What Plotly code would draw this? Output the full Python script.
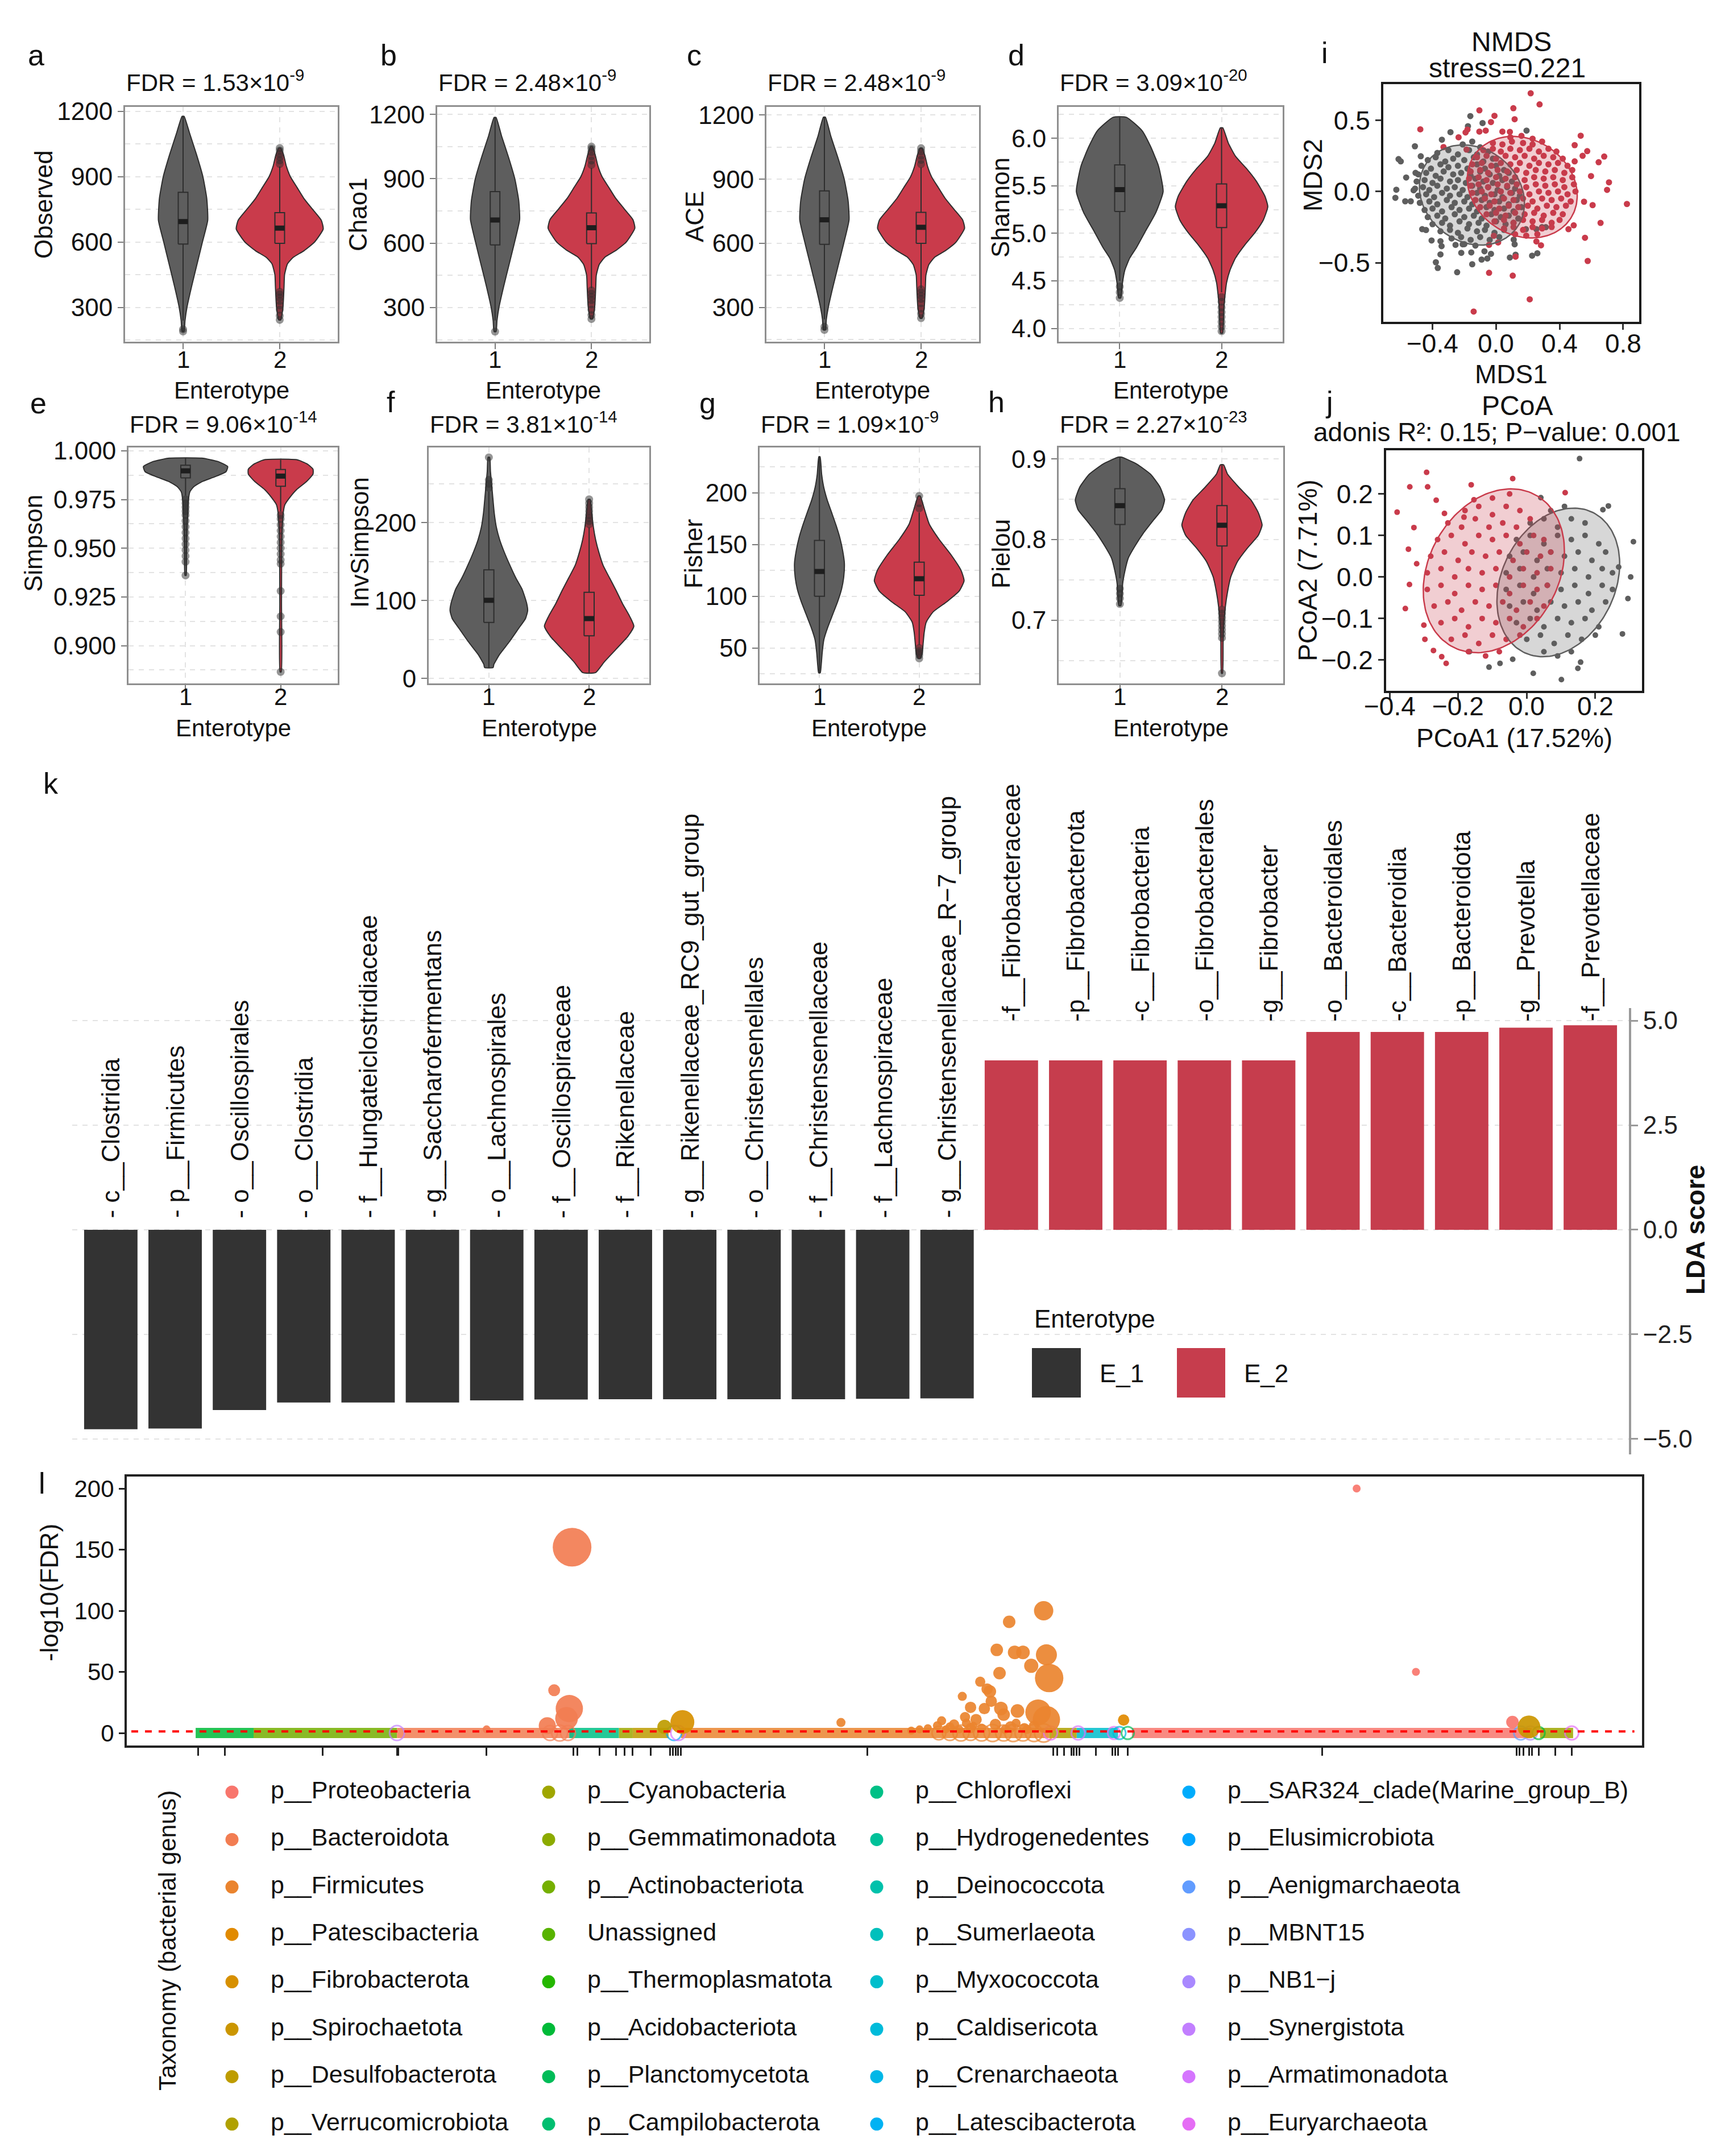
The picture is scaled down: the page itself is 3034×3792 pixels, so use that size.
import math
import numpy as np
import plotly.graph_objects as go

W, H = 3034, 3792
FONT = "Liberation Sans, Arial, Helvetica, sans-serif"

GRAY = "#5E5E5E"
RED = "#C93B4B"
BAR_E1 = "#333333"
BAR_E2 = "#C63D4D"
GRID = "#E3E3E3"
FRAME = "#8F8F8F"
INK = "#111111"

# ======================= DATA =======================
# violin outlines: value levels (Y) and half-widths (W, x units); box = [low whisker, q1, median, q3, high whisker]
OBS_Y1 = [190, 240, 300, 400, 500, 600, 700, 800, 900, 1000, 1100, 1177]
OBS_W1 = [0.01, 0.02, 0.04, 0.09, 0.145, 0.2, 0.255, 0.245, 0.205, 0.14, 0.067, 0.01]
OBS_Y2 = [243, 300, 350, 400, 450, 500, 530, 560, 600, 660, 700, 750, 800, 850, 900, 950, 1000, 1031]
OBS_W2 = [0.01, 0.033, 0.04, 0.045, 0.05, 0.08, 0.14, 0.25, 0.36, 0.45, 0.43, 0.34, 0.25, 0.18, 0.11, 0.067, 0.04, 0.01]
OBS_BOX1 = [240, 591, 694, 828, 1177]
OBS_BOX2 = [385, 594, 664, 735, 946]
OBS_OUT1 = [190, 200]
OBS_OUT2 = [243, 262, 290, 310, 330, 345, 360, 372, 958, 975, 990, 1005, 1020, 1031]

CHAO_Y1 = [188, 240, 300, 400, 500, 600, 710, 800, 900, 1000, 1100, 1186]
CHAO_W1 = [0.01, 0.02, 0.04, 0.09, 0.145, 0.2, 0.255, 0.245, 0.205, 0.14, 0.067, 0.01]
CHAO_Y2 = [247, 300, 350, 400, 450, 500, 535, 565, 605, 670, 710, 760, 810, 860, 910, 960, 1010, 1050]
CHAO_W2 = [0.01, 0.033, 0.04, 0.045, 0.05, 0.08, 0.14, 0.25, 0.36, 0.45, 0.43, 0.34, 0.25, 0.18, 0.11, 0.067, 0.04, 0.01]
CHAO_BOX1 = [240, 592, 708, 840, 1186]
CHAO_BOX2 = [390, 598, 672, 741, 950]
CHAO_OUT1 = [188]
CHAO_OUT2 = [247, 265, 290, 315, 335, 350, 365, 380, 965, 985, 1005, 1025, 1040, 1050]

ACE_Y1 = [195, 245, 300, 400, 500, 600, 710, 800, 900, 1000, 1100, 1190]
ACE_W1 = [0.01, 0.02, 0.04, 0.09, 0.145, 0.2, 0.255, 0.245, 0.205, 0.14, 0.067, 0.01]
ACE_Y2 = [250, 300, 350, 400, 450, 500, 535, 565, 605, 670, 710, 760, 810, 860, 910, 960, 1010, 1045]
ACE_W2 = [0.01, 0.033, 0.04, 0.045, 0.05, 0.08, 0.14, 0.25, 0.36, 0.45, 0.43, 0.34, 0.25, 0.18, 0.11, 0.067, 0.04, 0.01]
ACE_BOX1 = [245, 595, 710, 845, 1190]
ACE_BOX2 = [390, 600, 675, 745, 955]
ACE_OUT1 = [195, 210]
ACE_OUT2 = [250, 270, 295, 320, 340, 355, 370, 385, 970, 990, 1010, 1030, 1045]

SHAN_Y1 = [4.32, 4.48, 4.61, 4.74, 4.85, 5.01, 5.22, 5.44, 5.71, 5.92, 6.08, 6.22]
SHAN_W1 = [0.01, 0.027, 0.049, 0.098, 0.164, 0.246, 0.355, 0.426, 0.38, 0.30, 0.219, 0.066]
SHAN_Y2 = [3.95, 4.21, 4.34, 4.48, 4.61, 4.74, 4.88, 5.01, 5.14, 5.28, 5.39, 5.55, 5.68, 5.81, 5.95, 6.11]
SHAN_W2 = [0.01, 0.022, 0.033, 0.049, 0.082, 0.137, 0.23, 0.33, 0.41, 0.454, 0.426, 0.34, 0.246, 0.137, 0.066, 0.012]
SHAN_BOX1 = [4.50, 5.23, 5.46, 5.72, 6.22]
SHAN_BOX2 = [4.38, 5.06, 5.29, 5.52, 6.11]
SHAN_OUT1 = [4.44, 4.38, 4.32]
SHAN_OUT2 = [4.33, 4.28, 4.22, 4.17, 4.12, 4.07, 4.02, 3.97]

SIMP_Y1 = [0.936, 0.9477, 0.9607, 0.9672, 0.9737, 0.9789, 0.9815, 0.9841, 0.9867, 0.9893, 0.9919, 0.9945, 0.9962]
SIMP_W1 = [0.006, 0.011, 0.017, 0.023, 0.028, 0.045, 0.085, 0.17, 0.31, 0.426, 0.443, 0.34, 0.17]
SIMP_Y2 = [0.8865, 0.9216, 0.9477, 0.9607, 0.9685, 0.9724, 0.9763, 0.9802, 0.9841, 0.9880, 0.9906, 0.9932, 0.9954]
SIMP_W2 = [0.006, 0.009, 0.011, 0.017, 0.028, 0.045, 0.10, 0.17, 0.27, 0.34, 0.34, 0.28, 0.17]
SIMP_BOX1 = [0.977, 0.9861, 0.9897, 0.9926, 0.9962]
SIMP_BOX2 = [0.969, 0.9818, 0.9870, 0.9904, 0.9954]
SIMP_OUT1 = [0.975, 0.973, 0.971, 0.969, 0.967, 0.964, 0.961, 0.958, 0.955, 0.952, 0.949, 0.946, 0.943, 0.936]
SIMP_OUT2 = [0.967, 0.965, 0.962, 0.959, 0.956, 0.953, 0.950, 0.947, 0.944, 0.942, 0.928, 0.915, 0.907, 0.8865]

INVS_Y1 = [14, 18, 31, 47, 64, 77, 87, 97, 114, 129, 147, 163, 178, 194, 212, 227, 243, 266, 284]
INVS_W1 = [0.043, 0.05, 0.108, 0.204, 0.296, 0.366, 0.387, 0.376, 0.333, 0.269, 0.204, 0.151, 0.108, 0.075, 0.054, 0.043, 0.032, 0.016, 0.008]
INVS_Y2 = [7.5, 21, 37.6, 54, 67, 80, 96, 113, 129, 145, 162, 178, 194, 211, 230]
INVS_W2 = [0.065, 0.15, 0.27, 0.387, 0.446, 0.403, 0.333, 0.269, 0.204, 0.14, 0.097, 0.065, 0.043, 0.027, 0.01]
INVS_BOX1 = [14, 71.9, 100.3, 139.5, 240]
INVS_BOX2 = [7.5, 54.6, 76.8, 110.5, 194]
INVS_OUT1 = [245, 250, 255, 284]
INVS_OUT2 = [198, 202, 206, 210, 215, 220, 225, 230]

FISH_Y1 = [26, 33, 46, 58, 70, 82.5, 95, 107, 119, 132, 144, 156, 168.5, 181, 193, 205, 218, 235]
FISH_W1 = [0.008, 0.017, 0.028, 0.044, 0.083, 0.133, 0.183, 0.222, 0.244, 0.25, 0.233, 0.206, 0.167, 0.122, 0.078, 0.044, 0.022, 0.006]
FISH_Y2 = [40, 45, 55, 65, 75, 85, 95, 105, 115, 125, 140, 155, 170, 185, 197]
FISH_W2 = [0.01, 0.03, 0.04, 0.05, 0.07, 0.14, 0.28, 0.40, 0.45, 0.42, 0.32, 0.20, 0.10, 0.05, 0.01]
FISH_BOX1 = [26, 100, 124, 154, 235]
FISH_BOX2 = [53, 101, 117, 133, 181]
FISH_OUT1 = []
FISH_OUT2 = [185, 190, 197, 50, 47, 45, 43, 40]

PIEL_Y1 = [0.718, 0.732, 0.745, 0.761, 0.777, 0.792, 0.808, 0.824, 0.837, 0.849, 0.865, 0.881, 0.8937, 0.9022]
PIEL_W1 = [0.01, 0.022, 0.027, 0.049, 0.082, 0.148, 0.23, 0.328, 0.41, 0.437, 0.393, 0.30, 0.164, 0.016]
PIEL_Y2 = [0.634, 0.672, 0.691, 0.7165, 0.7354, 0.754, 0.773, 0.789, 0.805, 0.818, 0.8335, 0.849, 0.865, 0.881, 0.8927]
PIEL_W2 = [0.005, 0.011, 0.016, 0.033, 0.055, 0.087, 0.153, 0.246, 0.355, 0.393, 0.355, 0.284, 0.164, 0.055, 0.016]
PIEL_BOX1 = [0.752, 0.8187, 0.842, 0.863, 0.9022]
PIEL_BOX2 = [0.717, 0.792, 0.8177, 0.842, 0.8927]
PIEL_OUT1 = [0.739, 0.733, 0.727, 0.72]
PIEL_OUT2 = [0.713, 0.708, 0.703, 0.698, 0.693, 0.688, 0.683, 0.678, 0.634]

FDR_TEXT = ["1.53×10<sup>-9</sup>", "2.48×10<sup>-9</sup>", "2.48×10<sup>-9</sup>", "3.09×10<sup>-20</sup>",
            "9.06×10<sup>-14</sup>", "3.81×10<sup>-14</sup>", "1.09×10<sup>-9</sup>", "2.27×10<sup>-23</sup>"]
INDEX_NAMES = ["Observed", "Chao1", "ACE", "Shannon", "Simpson", "InvSimpson", "Fisher", "Pielou"]
GROUPS = ["1", "2"]

# NMDS (MDS1, MDS2)
NMDS_E1 = [(-0.162,0.529),(-0.177,0.458),(-0.085,0.480),(-0.287,0.416),(-0.341,0.363),(-0.511,0.317),(-0.614,0.227),(-0.600,0.211),(-0.474,0.247),(0.192,0.427),(-0.628,0.012),(-0.634,-0.045),(-0.566,0.098),(-0.507,0.130),(-0.572,-0.069),(-0.537,-0.069),(-0.519,0.008),(-0.465,-0.265),(-0.441,-0.271),(-0.406,-0.344),(-0.350,-0.349),(-0.343,-0.384),(-0.350,-0.442),(-0.379,-0.497),(-0.367,-0.537),(-0.245,-0.567),(-0.150,-0.511),(-0.219,-0.431),(-0.156,-0.428),(-0.073,-0.420),(-0.091,-0.478),(-0.055,-0.471),(-0.032,-0.438),(-0.255,-0.375),(-0.210,-0.371),(0.087,-0.464),(0.123,-0.444),(0.227,-0.451),(0.260,-0.434),(0.117,-0.371),(0.111,-0.338),(0.188,-0.265),(0.254,-0.265),(0.289,-0.251),(0.313,-0.251),
    (-0.21,0.33),(-0.15,0.35),(-0.10,0.31),(-0.37,0.27),(-0.30,0.29),(-0.24,0.26),(-0.17,0.29),(-0.12,0.26),(-0.05,0.28),
    (-0.43,0.22),(-0.38,0.24),(-0.32,0.21),(-0.27,0.23),(-0.20,0.22),(-0.14,0.24),(-0.08,0.21),(-0.02,0.23),
    (-0.47,0.18),(-0.41,0.16),(-0.35,0.19),(-0.30,0.17),(-0.24,0.18),(-0.18,0.16),(-0.12,0.19),(-0.07,0.16),(0.00,0.18),(0.05,0.15),
    (-0.49,0.12),(-0.44,0.13),(-0.38,0.11),(-0.33,0.14),(-0.27,0.12),(-0.22,0.13),(-0.16,0.11),(-0.10,0.14),(-0.04,0.12),(0.02,0.11),(0.08,0.13),
    (-0.50,0.07),(-0.45,0.08),(-0.40,0.06),(-0.35,0.09),(-0.29,0.07),(-0.24,0.08),(-0.19,0.06),(-0.13,0.09),(-0.08,0.07),(-0.02,0.06),(0.04,0.08),(0.10,0.07),
    (-0.51,0.02),(-0.46,0.03),(-0.42,0.01),(-0.37,0.04),(-0.31,0.02),(-0.26,0.03),(-0.21,0.01),(-0.15,0.04),(-0.10,0.02),(-0.05,0.03),(0.01,0.01),(0.07,0.03),(0.12,0.02),
    (-0.49,-0.03),(-0.44,-0.02),(-0.39,-0.04),(-0.34,-0.01),(-0.29,-0.03),(-0.23,-0.02),(-0.18,-0.04),(-0.12,-0.01),(-0.07,-0.03),(-0.01,-0.02),(0.04,-0.04),(0.10,-0.01),(0.15,-0.03),
    (-0.48,-0.08),(-0.42,-0.07),(-0.37,-0.09),(-0.31,-0.06),(-0.26,-0.08),(-0.20,-0.07),(-0.15,-0.09),(-0.09,-0.06),(-0.04,-0.08),(0.02,-0.07),(0.08,-0.09),(0.13,-0.06),
    (-0.45,-0.13),(-0.40,-0.12),(-0.34,-0.14),(-0.28,-0.11),(-0.23,-0.13),(-0.17,-0.12),(-0.12,-0.14),(-0.06,-0.11),(-0.01,-0.13),(0.05,-0.12),(0.11,-0.14),(0.16,-0.11),
    (-0.43,-0.18),(-0.37,-0.17),(-0.32,-0.19),(-0.26,-0.16),(-0.20,-0.18),(-0.14,-0.17),(-0.09,-0.19),(-0.03,-0.16),(0.03,-0.18),(0.08,-0.17),(0.14,-0.19),
    (-0.40,-0.23),(-0.34,-0.22),(-0.29,-0.24),(-0.23,-0.21),(-0.17,-0.23),(-0.11,-0.22),(-0.06,-0.24),(0.00,-0.21),(0.06,-0.23),(0.11,-0.22),
    (-0.35,-0.28),(-0.29,-0.27),(-0.24,-0.29),(-0.18,-0.26),(-0.12,-0.28),(-0.07,-0.27),(-0.01,-0.29),(0.05,-0.27),
    (-0.28,-0.33),(-0.22,-0.32),(-0.16,-0.34),(-0.10,-0.32),(-0.04,-0.34),(0.02,-0.32),(-0.20,-0.37),(-0.13,-0.38)]
NMDS_E2 = [(0.218,0.689),(0.274,0.611),(0.109,0.584),(0.117,0.507),(-0.105,0.569),(-0.010,0.531),(-0.032,0.487),(-0.477,0.436),(-0.236,0.380),(-0.192,0.414),(-0.180,0.434),(-0.105,0.420),(-0.065,0.427),(0.040,0.420),(0.087,0.418),(-0.331,0.311),(-0.186,0.294),(0.533,0.391),(0.495,0.325),(0.574,0.283),(0.545,0.250),(0.681,0.245),(0.646,0.205),(0.495,0.211),(0.598,0.108),(0.711,0.064),(0.699,0.011),(0.824,-0.088),(0.608,-0.096),(0.554,-0.072),(0.658,-0.221),(0.560,-0.325),(0.577,-0.488),(0.123,-0.458),(-0.044,-0.571),(0.105,-0.591),(0.212,-0.757),(-0.141,-0.843),(-0.014,-0.311),(0.013,-0.358),(-0.044,-0.375),(0.254,-0.351),(0.283,-0.378),(0.489,-0.238),(0.456,-0.265),
    (0.09,0.38),(0.16,0.39),(0.23,0.37),(-0.02,0.34),(0.04,0.33),(0.10,0.35),(0.17,0.34),(0.23,0.33),(0.29,0.35),
    (-0.08,0.29),(-0.02,0.30),(0.03,0.28),(0.09,0.30),(0.15,0.29),(0.21,0.30),(0.27,0.28),(0.33,0.30),(0.38,0.28),
    (-0.12,0.24),(-0.06,0.25),(0.00,0.23),(0.06,0.25),(0.12,0.24),(0.18,0.25),(0.24,0.23),(0.30,0.25),(0.36,0.24),(0.42,0.23),
    (-0.15,0.19),(-0.09,0.20),(-0.03,0.18),(0.03,0.20),(0.09,0.19),(0.15,0.20),(0.21,0.18),(0.27,0.20),(0.33,0.19),(0.39,0.20),(0.45,0.18),
    (-0.16,0.14),(-0.10,0.15),(-0.05,0.13),(0.01,0.15),(0.07,0.14),(0.13,0.15),(0.19,0.13),(0.25,0.15),(0.31,0.14),(0.37,0.15),(0.43,0.13),(0.48,0.15),
    (-0.17,0.09),(-0.11,0.10),(-0.06,0.08),(0.00,0.10),(0.06,0.09),(0.12,0.10),(0.18,0.08),(0.24,0.10),(0.30,0.09),(0.36,0.10),(0.42,0.08),(0.48,0.10),
    (-0.16,0.04),(-0.11,0.05),(-0.05,0.03),(0.01,0.05),(0.07,0.04),(0.13,0.05),(0.19,0.03),(0.25,0.05),(0.31,0.04),(0.37,0.05),(0.43,0.03),(0.49,0.05),
    (-0.15,-0.01),(-0.09,0.00),(-0.03,-0.02),(0.03,0.00),(0.09,-0.01),(0.15,0.00),(0.21,-0.02),(0.27,0.00),(0.33,-0.01),(0.39,0.00),(0.45,-0.02),(0.50,0.00),
    (-0.13,-0.06),(-0.07,-0.05),(-0.01,-0.07),(0.05,-0.05),(0.11,-0.06),(0.17,-0.05),(0.23,-0.07),(0.29,-0.05),(0.35,-0.06),(0.41,-0.05),(0.47,-0.07),
    (-0.10,-0.11),(-0.04,-0.10),(0.02,-0.12),(0.08,-0.10),(0.14,-0.11),(0.20,-0.10),(0.26,-0.12),(0.32,-0.10),(0.38,-0.11),(0.44,-0.10),
    (-0.06,-0.16),(0.00,-0.15),(0.06,-0.17),(0.12,-0.15),(0.18,-0.16),(0.24,-0.15),(0.30,-0.17),(0.36,-0.15),(0.42,-0.16),
    (-0.01,-0.21),(0.05,-0.20),(0.11,-0.22),(0.17,-0.20),(0.23,-0.21),(0.29,-0.20),(0.35,-0.22),(0.40,-0.20),
    (0.05,-0.26),(0.11,-0.25),(0.17,-0.27),(0.23,-0.25),(0.29,-0.26),(0.35,-0.25),(0.12,-0.30),(0.19,-0.31),(0.26,-0.30)]
# ellipse parameters (centre x, centre y, semi-major, semi-minor, angle deg)
NMDS_ELL_E1 = (-0.152, -0.025, 0.37, 0.31, -55)
NMDS_ELL_E2 = (0.165, 0.03, 0.38, 0.32, -50)

# PCoA (PCoA1, PCoA2)
PCOA_E1 = [(0.154,0.285),(0.041,0.191),(0.311,0.085),(0.295,-0.052),(0.303,0.0),(0.238,0.171),(0.222,0.162),(0.101,-0.247),(0.149,-0.220),(0.157,-0.205),(-0.110,-0.217),(-0.078,-0.208),(-0.041,-0.198),(-0.167,-0.180),(0.019,-0.232),(0.279,-0.137),(0.268,0.024),
    (0.07,0.16),(0.11,0.17),(0.01,0.13),(0.05,0.14),(0.09,0.12),(0.13,0.14),(0.17,0.13),
    (-0.03,0.09),(0.01,0.10),(0.05,0.08),(0.09,0.10),(0.13,0.09),(0.17,0.10),(0.21,0.08),
    (-0.05,0.05),(-0.01,0.06),(0.03,0.04),(0.07,0.06),(0.11,0.05),(0.15,0.06),(0.19,0.04),(0.23,0.06),
    (-0.06,0.01),(-0.02,0.02),(0.02,0.00),(0.06,0.02),(0.10,0.01),(0.14,0.02),(0.18,0.00),(0.22,0.02),(0.25,0.01),
    (-0.06,-0.03),(-0.02,-0.02),(0.02,-0.04),(0.06,-0.02),(0.10,-0.03),(0.14,-0.02),(0.18,-0.04),(0.22,-0.02),(0.25,-0.03),
    (-0.05,-0.07),(-0.01,-0.06),(0.03,-0.08),(0.07,-0.06),(0.11,-0.07),(0.15,-0.06),(0.19,-0.08),(0.23,-0.06),
    (-0.03,-0.11),(0.01,-0.10),(0.05,-0.12),(0.09,-0.10),(0.13,-0.11),(0.17,-0.10),(0.21,-0.12),
    (0.00,-0.15),(0.04,-0.14),(0.08,-0.16),(0.12,-0.14),(0.16,-0.15),(0.20,-0.14),(0.05,-0.18),(0.09,-0.19),(0.13,-0.18)]
PCOA_E2 = [(-0.292,0.252),(-0.341,0.217),(-0.289,0.217),(-0.162,0.222),(-0.041,0.237),(0.112,0.203),(-0.378,0.156),(-0.264,0.185),(-0.329,0.119),(-0.345,0.067),(-0.321,0.032),(-0.342,-0.018),(-0.354,-0.076),(-0.300,-0.116),(-0.272,-0.177),(-0.248,-0.192),(-0.235,-0.208),(-0.297,-0.150),(-0.240,0.153),(-0.183,0.144),(-0.154,0.186),
    (-0.10,0.19),(-0.05,0.20),(-0.18,0.16),(-0.14,0.17),(-0.10,0.15),(-0.06,0.17),(-0.02,0.16),
    (-0.23,0.13),(-0.19,0.12),(-0.15,0.14),(-0.11,0.12),(-0.07,0.13),(-0.03,0.12),(0.01,0.14),
    (-0.26,0.09),(-0.22,0.10),(-0.18,0.08),(-0.14,0.10),(-0.10,0.09),(-0.06,0.10),(-0.02,0.08),(0.02,0.10),(0.05,0.09),
    (-0.28,0.05),(-0.24,0.06),(-0.20,0.04),(-0.16,0.06),(-0.12,0.05),(-0.08,0.06),(-0.04,0.04),(0.00,0.06),(0.04,0.05),(0.07,0.06),
    (-0.29,0.01),(-0.25,0.02),(-0.21,0.00),(-0.17,0.02),(-0.13,0.01),(-0.09,0.02),(-0.05,0.00),(-0.01,0.02),(0.03,0.01),(0.07,0.02),
    (-0.29,-0.03),(-0.25,-0.02),(-0.21,-0.04),(-0.17,-0.02),(-0.13,-0.03),(-0.09,-0.02),(-0.05,-0.04),(-0.01,-0.02),(0.03,-0.03),(0.06,-0.02),
    (-0.27,-0.07),(-0.23,-0.06),(-0.19,-0.08),(-0.15,-0.06),(-0.11,-0.07),(-0.07,-0.06),(-0.03,-0.08),(0.01,-0.06),(0.05,-0.07),
    (-0.25,-0.11),(-0.21,-0.10),(-0.17,-0.12),(-0.13,-0.10),(-0.09,-0.11),(-0.05,-0.10),(-0.01,-0.12),(0.03,-0.10),
    (-0.22,-0.15),(-0.18,-0.14),(-0.14,-0.16),(-0.10,-0.14),(-0.06,-0.15),(-0.02,-0.14),(-0.17,-0.18),(-0.12,-0.19),(-0.08,-0.18)]
PCOA_ELL_E1 = (0.092, -0.013, 0.20, 0.155, 45)
PCOA_ELL_E2 = (-0.096, 0.015, 0.225, 0.175, 40)

# LDA (panel k)
LDA_TAXA = ["c__Clostridia", "p__Firmicutes", "o__Oscillospirales", "o__Clostridia", "f__Hungateiclostridiaceae",
            "g__Saccharofermentans", "o__Lachnospirales", "f__Oscillospiraceae", "f__Rikenellaceae",
            "g__Rikenellaceae_RC9_gut_group", "o__Christensenellales", "f__Christensenellaceae", "f__Lachnospiraceae",
            "g__Christensenellaceae_R−7_group", "f__Fibrobacteraceae", "p__Fibrobacterota", "c__Fibrobacteria",
            "o__Fibrobacterales", "g__Fibrobacter", "o__Bacteroidales", "c__Bacteroidia", "p__Bacteroidota",
            "g__Prevotella", "f__Prevotellaceae"]
LDA_SCORE = [-4.77, -4.75, -4.31, -4.13, -4.13, -4.13, -4.08, -4.06, -4.05, -4.05, -4.05, -4.05, -4.04, -4.03,
             4.05, 4.05, 4.05, 4.05, 4.05, 4.73, 4.73, 4.73, 4.83, 4.89]
LDA_TICKS = [-5.0, -2.5, 0.0, 2.5, 5.0]

# Manhattan (panel l): x = genus rank position
PHYLA = ["p__Proteobacteria", "p__Bacteroidota", "p__Firmicutes", "p__Patescibacteria", "p__Fibrobacterota",
         "p__Spirochaetota", "p__Desulfobacterota", "p__Verrucomicrobiota", "p__Cyanobacteria", "p__Gemmatimonadota",
         "p__Actinobacteriota", "Unassigned", "p__Thermoplasmatota", "p__Acidobacteriota", "p__Planctomycetota",
         "p__Campilobacterota", "p__Chloroflexi", "p__Hydrogenedentes", "p__Deinococcota", "p__Sumerlaeota",
         "p__Myxococcota", "p__Caldisericota", "p__Crenarchaeota", "p__Latescibacterota",
         "p__SAR324_clade(Marine_group_B)", "p__Elusimicrobiota", "p__Aenigmarchaeota", "p__MBNT15", "p__NB1−j",
         "p__Synergistota", "p__Armatimonadota", "p__Euryarchaeota"]
N_PHYLUM_LEVELS = 39

BAND_PHYLUM = ["p__Acidobacteriota", "p__Actinobacteriota", "p__Bacteroidota", "p__Chloroflexi", "p__Cyanobacteria",
               "p__Desulfobacterota", "p__Firmicutes", "p__Verrucomicrobiota", "p__Myxococcota",
               "p__Proteobacteria", "p__Cyanobacteria"]
BAND_START = [1, 43, 147, 272, 308, 318, 353, 620, 640, 680, 976]
BAND_END = [43, 147, 275, 308, 318, 344, 620, 640, 670, 970, 1000]

SIG_PHYLUM = (["p__Bacteroidota"] * 6 + ["p__Desulfobacterota", "p__Fibrobacterota"] + ["p__Firmicutes"] * 44
              + ["p__Patescibacteria"] + ["p__Proteobacteria"] * 3 + ["p__Spirochaetota"])
SIG_X = [274, 261, 272, 270, 256, 212, 341, 354,
         469, 616, 591, 582, 595, 601, 618, 607, 620, 584, 570, 575, 577, 557, 578, 563, 573, 585, 597, 587, 559, 567,
         612, 618, 542, 551, 581, 539, 532, 526, 563, 592, 602, 520, 545, 548, 555, 560, 565, 571, 588, 596, 604, 609,
         674, 843, 886, 956, 968]
SIG_Y = [152, 35, 20, 12, 6, 3, 5, 9,
         8.6, 100, 91, 68, 66, 66, 64, 55, 45, 49, 42, 36, 34, 30, 26, 21, 20, 20, 18, 15, 13, 11,
         17, 11, 10, 7, 7, 6, 4, 3, 4, 5, 4, 2, 3, 5, 3, 8, 6, 4, 3, 8, 3, 6,
         10.6, 200, 50, 9, 5]
SIG_SIZE = [68, 21, 48, 40, 30, 14, 25, 42,
            16, 34, 22, 22, 24, 24, 37, 25, 50, 22, 18, 20, 22, 16, 20, 20, 20, 24, 24, 22, 18, 20,
            45, 48, 16, 18, 20, 16, 14, 14, 18, 20, 18, 14, 14, 16, 14, 16, 14, 16, 16, 16, 16, 18,
            20, 14, 14, 22, 40]

RING_PHYLUM = (["p__Synergistota"] + ["p__Bacteroidota"] * 3 + ["p__Elusimicrobiota", "p__Armatimonadota"]
               + ["p__Firmicutes"] * 11 + ["p__Euryarchaeota", "p__Armatimonadota", "p__Euryarchaeota",
               "p__Caldisericota", "p__Planctomycetota", "p__Aenigmarchaeota", "p__NB1−j", "p__Acidobacteriota",
               "p__Euryarchaeota"])
RING_X = [147, 258, 265, 271, 348, 351, 540, 548, 556, 563, 571, 579, 587, 594, 601, 609, 616,
          621, 641, 667, 671, 677, 962, 969, 975, 999]
RING_SIZE = [26, 26, 28, 26, 26, 26, 24, 26, 28, 26, 28, 30, 28, 30, 28, 30, 32,
             24, 24, 22, 22, 22, 24, 24, 22, 24]
FDR_CUTOFF = -math.log10(0.05)
MAN_TICKS = [3, 22, 93, 147, 148, 212, 275, 278, 294, 306, 312, 318, 331, 345, 347, 349, 351, 353, 488, 623, 626,
             631, 636, 638, 640, 642, 654, 666, 668, 670, 677, 818, 959, 961, 964, 968, 970, 975, 987, 999]


# ======================= helpers =======================
def hcl_hex(h, c=100.0, l=65.0):
    hr = math.radians(h)
    U, V = c * math.cos(hr), c * math.sin(hr)
    Xn, Yn, Zn = 95.047, 100.0, 108.883
    Y = Yn * (((l + 16) / 116) ** 3 if l > 7.999592 else l / 903.3)
    den = Xn + 15 * Yn + 3 * Zn
    un, vn = 4 * Xn / den, 9 * Yn / den
    u = U / (13 * l) + un
    v = V / (13 * l) + vn
    X = 9.0 * Y * u / (4 * v)
    Z = -X / 3 - 5 * Y + 3 * Y / v
    rgb = [(3.240479 * X - 1.537150 * Y - 0.498535 * Z) / 100,
           (-0.969256 * X + 1.875992 * Y + 0.041556 * Z) / 100,
           (0.055648 * X - 0.204043 * Y + 1.057311 * Z) / 100]
    out = []
    for t in rgb:
        t = 1.055 * t ** (1 / 2.4) - 0.055 if t > 0.0031308 else 12.92 * t
        out.append(int(round(min(max(t, 0), 1) * 255)))
    return "#%02X%02X%02X" % tuple(out)


PAL = [hcl_hex(15 + 360.0 * i / N_PHYLUM_LEVELS) for i in range(N_PHYLUM_LEVELS)]
PCOL = {p: PAL[i] for i, p in enumerate(PHYLA)}


def dx(a, b):
    return [a / W, b / W]


def dy(top, bot):
    return [1 - bot / H, 1 - top / H]


def fx(p):
    return p / W


def fy(p):
    return 1 - p / H


def ax_names(n):
    return ("xaxis" if n == 1 else f"xaxis{n}", "yaxis" if n == 1 else f"yaxis{n}",
            "x" if n == 1 else f"x{n}", "y" if n == 1 else f"y{n}")


def ellipse(params, n=160):
    cx, cy, a, b, ang = params
    t = np.linspace(0, 2 * np.pi, n)
    th = math.radians(ang)
    xs = cx + a * np.cos(t) * math.cos(th) - b * np.sin(t) * math.sin(th)
    ys = cy + a * np.cos(t) * math.sin(th) + b * np.sin(t) * math.cos(th)
    return xs, ys


traces = []
layout = {}
ann = []
shapes = []


def text(x, y, s, size=44, angle=0, xa="center", ya="middle", bold=False, color=INK):
    ann.append(dict(x=fx(x), y=fy(y), xref="paper", yref="paper", text=("<b>%s</b>" % s) if bold else s,
                    showarrow=False, textangle=angle, xanchor=xa, yanchor=ya,
                    font=dict(family=FONT, size=size, color=color)))


def xtick_label(xref, xval, label, ypx, size):
    ann.append(dict(x=xval, xref=xref, y=fy(ypx), yref="paper", text=label, showarrow=False,
                    xanchor="center", yanchor="middle", font=dict(family=FONT, size=size, color=INK)))


# ======================= violin panels =======================
VIOLIN_DATA = [
    (OBS_Y1, OBS_W1, OBS_BOX1, OBS_OUT1, OBS_Y2, OBS_W2, OBS_BOX2, OBS_OUT2),
    (CHAO_Y1, CHAO_W1, CHAO_BOX1, CHAO_OUT1, CHAO_Y2, CHAO_W2, CHAO_BOX2, CHAO_OUT2),
    (ACE_Y1, ACE_W1, ACE_BOX1, ACE_OUT1, ACE_Y2, ACE_W2, ACE_BOX2, ACE_OUT2),
    (SHAN_Y1, SHAN_W1, SHAN_BOX1, SHAN_OUT1, SHAN_Y2, SHAN_W2, SHAN_BOX2, SHAN_OUT2),
    (SIMP_Y1, SIMP_W1, SIMP_BOX1, SIMP_OUT1, SIMP_Y2, SIMP_W2, SIMP_BOX2, SIMP_OUT2),
    (INVS_Y1, INVS_W1, INVS_BOX1, INVS_OUT1, INVS_Y2, INVS_W2, INVS_BOX2, INVS_OUT2),
    (FISH_Y1, FISH_W1, FISH_BOX1, FISH_OUT1, FISH_Y2, FISH_W2, FISH_BOX2, FISH_OUT2),
    (PIEL_Y1, PIEL_W1, PIEL_BOX1, PIEL_OUT1, PIEL_Y2, PIEL_W2, PIEL_BOX2, PIEL_OUT2),
]
VIOLIN_LAYOUT = [
    (212, 586, 180, 593, [143, 1220], [300, 600, 900, 1200], ["300", "600", "900", "1200"], [150, 450, 750, 1050], "a", (55, 89), (69, 352)),
    (761, 1134, 180, 593, [141, 1235], [300, 600, 900, 1200], ["300", "600", "900", "1200"], [150, 450, 750, 1050], "b", (675, 89), (622, 369)),
    (1340, 1714, 180, 593, [140, 1238], [300, 600, 900, 1200], ["300", "600", "900", "1200"], [150, 450, 750, 1050], "c", (1213, 89), (1213, 373)),
    (1854, 2248, 180, 593, [3.86, 6.33], [4.0, 4.5, 5.0, 5.5, 6.0], ["4.0", "4.5", "5.0", "5.5", "6.0"], [4.25, 4.75, 5.25, 5.75, 6.25], "d", (1779, 89), (1752, 357)),
    (218, 586, 779, 1194, [0.8806, 1.0017], [0.900, 0.925, 0.950, 0.975, 1.000], ["0.900", "0.925", "0.950", "0.975", "1.000"], [0.8875, 0.9125, 0.9375, 0.9625, 0.9875], "e", (59, 701), (50, 948)),
    (746, 1134, 779, 1194, [-6.5, 296.7], [0, 100, 200], ["0", "100", "200"], [50, 150, 250], "f", (679, 699), (624, 946)),
    (1328, 1714, 779, 1194, [15.8, 243.9], [50, 100, 150, 200], ["50", "100", "150", "200"], [25, 75, 125, 175, 225], "g", (1236, 701), (1211, 966)),
    (1854, 2249, 779, 1194, [0.6215, 0.9142], [0.7, 0.8, 0.9], ["0.7", "0.8", "0.9"], [0.65, 0.75, 0.85], "h", (1745, 699), (1752, 966)),
]
BOX_HALF = 0.05
OUTLINE = "#2E2E2E"

for k, (spec, dat) in enumerate(zip(VIOLIN_LAYOUT, VIOLIN_DATA)):
    n = k + 1
    xa, ya, xr, yr = ax_names(n)
    x0, x1, top, bot, yrange, tv, tt, minor, letter, lpos, ytpos = spec
    groups = [(1, dat[0], dat[1], dat[2], dat[3], GRAY), (2, dat[4], dat[5], dat[6], dat[7], RED)]
    for c, ys, ws, box, outs, col in groups:
        px = [c + w for w in ws] + [c - w for w in ws[::-1]] + [c + ws[0]]
        py = list(ys) + list(ys[::-1]) + [ys[0]]
        traces.append(go.Scatter(x=px, y=py, mode="lines", fill="toself", fillcolor=col,
                                 line=dict(color=OUTLINE, width=2, shape="spline", smoothing=0.5),
                                 xaxis=xr, yaxis=yr, hoverinfo="skip", showlegend=False))
        lo, q1, med, q3, hi = box
        traces.append(go.Scatter(x=[c, c, None, c, c], y=[lo, q1, None, q3, hi], mode="lines",
                                 line=dict(color=OUTLINE, width=2), xaxis=xr, yaxis=yr,
                                 hoverinfo="skip", showlegend=False))
        traces.append(go.Scatter(x=[c - BOX_HALF, c + BOX_HALF, c + BOX_HALF, c - BOX_HALF, c - BOX_HALF],
                                 y=[q1, q1, q3, q3, q1], mode="lines", fill="toself", fillcolor=col,
                                 line=dict(color=OUTLINE, width=2), xaxis=xr, yaxis=yr,
                                 hoverinfo="skip", showlegend=False))
        traces.append(go.Scatter(x=[c - BOX_HALF, c + BOX_HALF], y=[med, med], mode="lines",
                                 line=dict(color="#1E1E1E", width=9), xaxis=xr, yaxis=yr,
                                 hoverinfo="skip", showlegend=False))
        if outs:
            traces.append(go.Scatter(x=[c] * len(outs), y=outs, mode="markers",
                                     marker=dict(color="rgba(45,45,45,0.5)", size=14, line=dict(width=0)),
                                     xaxis=xr, yaxis=yr, hoverinfo="skip", showlegend=False))
    layout[xa] = dict(domain=dx(x0, x1), range=[0.4, 2.6], tickmode="array", tickvals=[1, 2],
                      showticklabels=False,
                      showgrid=True, gridcolor=GRID, gridwidth=2, griddash="dash", zeroline=False,
                      showline=True, mirror=True, linecolor=FRAME, linewidth=3, ticks="outside", ticklen=10,
                      tickwidth=2, tickcolor="#7A7A7A", anchor=yr, fixedrange=True, automargin=False)
    layout[ya] = dict(domain=dy(top, bot), range=yrange, tickmode="array", tickvals=tv, ticktext=tt,
                      showgrid=True, gridcolor=GRID, gridwidth=2, griddash="dash",
                      minor=dict(tickmode="array", tickvals=minor, showgrid=True, gridcolor=GRID, gridwidth=2,
                                 griddash="dash"),
                      zeroline=False, showline=True, mirror=True, linecolor=FRAME, linewidth=3, ticks="outside",
                      ticklen=10, tickwidth=2, tickcolor="#7A7A7A", tickfont=dict(size=44, color=INK, family=FONT),
                      anchor=xr, fixedrange=True, automargin=False)
    row1 = top < 400
    for gi, g in enumerate(GROUPS):
        xtick_label(xr, gi + 1, g, 624 if row1 else 1218, 42)
    text(x0, 134 if row1 else 735, "FDR = " + FDR_TEXT[k], size=42, xa="left")
    text(lpos[0], lpos[1], letter, size=52)
    text(ytpos[0], ytpos[1], INDEX_NAMES[k], size=44, angle=-90)
    text((x0 + x1) / 2, 678 if row1 else 1272, "Enterotype", size=42)

# ======================= NMDS / PCoA =======================
ORD_LAYOUT = [
    (9, NMDS_E1, NMDS_E2, NMDS_ELL_E1, NMDS_ELL_E2, 2425, 2875, 140, 558, [-0.71, 0.901], [-0.915, 0.753],
     [-0.4, 0.0, 0.4, 0.8], ["−0.4", "0.0", "0.4", "0.8"], [-0.5, 0.0, 0.5], ["−0.5", "0.0", "0.5"], 11, 596),
    (10, PCOA_E1, PCOA_E2, PCOA_ELL_E1, PCOA_ELL_E2, 2430, 2880, 784, 1207, [-0.41, 0.336], [-0.274, 0.305],
     [-0.4, -0.2, 0.0, 0.2], ["−0.4", "−0.2", "0.0", "0.2"], [-0.2, -0.1, 0.0, 0.1, 0.2],
     ["−0.2", "−0.1", "0.0", "0.1", "0.2"], 10, 1234),
]
for (n, p1, p2, el1, el2, x0, x1, top, bot, xrg, yrg, xtv, xtt, ytv, ytt, msize, lab_y) in ORD_LAYOUT:
    xa, ya, xr, yr = ax_names(n)
    for pts, col in ((p1, GRAY), (p2, RED)):
        traces.append(go.Scatter(x=[p[0] for p in pts], y=[p[1] for p in pts], mode="markers",
                                 marker=dict(color=col, size=msize, line=dict(width=0)), xaxis=xr, yaxis=yr,
                                 hoverinfo="skip", showlegend=False))
    for el, col, fc in ((el1, GRAY, "rgba(94,94,94,0.25)"), (el2, RED, "rgba(201,59,75,0.25)")):
        ex, ey = ellipse(el)
        traces.append(go.Scatter(x=ex, y=ey, mode="lines", fill="toself", fillcolor=fc,
                                 line=dict(color=col, width=2.5), xaxis=xr, yaxis=yr, hoverinfo="skip",
                                 showlegend=False))
    common = dict(showgrid=False, zeroline=False, showline=True, mirror=True, linecolor="#1A1A1A", linewidth=4,
                  ticks="outside", ticklen=10, tickwidth=3, tickcolor="#333333",
                  tickfont=dict(size=46, color=INK, family=FONT), fixedrange=True, tickmode="array",
                  automargin=False)
    layout[xa] = dict(domain=dx(x0, x1), range=xrg, tickvals=xtv, showticklabels=False, anchor=yr, **common)
    layout[ya] = dict(domain=dy(top, bot), range=yrg, tickvals=ytv, ticktext=ytt, anchor=xr, **common)
    for v, t in zip(xtv, xtt):
        xtick_label(xr, v, t, lab_y, 46)

text(2322, 85, "i", size=52)
text(2650, 66, "NMDS", size=48)
text(2643, 111, "stress=0.221", size=48)
text(2301, 300, "MDS2", size=46, angle=-90)
text(2650, 650, "MDS1", size=46)
text(2330, 699, "j", size=52)
text(2660, 705, "PCoA", size=48)
text(2625, 752, "adonis R²: 0.15; P−value: 0.001", size=46)
text(2292, 995, "PCoA2 (7.71%)", size=46, angle=-90)
text(2655, 1290, "PCoA1 (17.52%)", size=46)

# ======================= LDA (k) =======================
xs_k = list(range(1, len(LDA_TAXA) + 1))
traces.append(go.Bar(x=xs_k, y=LDA_SCORE, width=0.83,
                     marker=dict(color=[BAR_E1 if v < 0 else BAR_E2 for v in LDA_SCORE], line=dict(width=0)),
                     xaxis="x11", yaxis="y11", hoverinfo="skip", showlegend=False))
layout["xaxis11"] = dict(domain=dx(119, 2857), range=[0.4, 24.6], visible=False, anchor="y11", fixedrange=True,
                         automargin=False)
layout["yaxis11"] = dict(domain=dy(1765, 2550), range=[-5.37, 5.30], side="right", anchor="x11",
                         tickmode="array", tickvals=LDA_TICKS, ticktext=["−5.0", "−2.5", "0.0", "2.5", "5.0"],
                         showgrid=True, gridcolor=GRID, gridwidth=2, griddash="dash", zeroline=False,
                         showline=True, linecolor="#9A9A9A", linewidth=4, ticks="outside", ticklen=12,
                         tickwidth=3, tickcolor="#9A9A9A", tickfont=dict(size=44, color="#222222", family=FONT),
                         fixedrange=True, automargin=False)
for i, (tax, v) in enumerate(zip(LDA_TAXA, LDA_SCORE)):
    ann.append(dict(x=i + 1, y=0.25 if v < 0 else 4.95, xref="x11", yref="y11",
                    text=("- " if v < 0 else "-") + tax, textangle=-90, xanchor="center", yanchor="bottom",
                    showarrow=False, font=dict(family=FONT, size=44, color=INK)))
text(81, 1370, "k", size=52)
text(2974, 2155, "LDA score", size=46, angle=-90, bold=True)
text(1809, 2311, "Enterotype", size=44, xa="left")
shapes.append(dict(type="rect", xref="paper", yref="paper", x0=fx(1807), x1=fx(1893), y0=fy(2450), y1=fy(2363),
                   fillcolor=BAR_E1, line=dict(width=0)))
shapes.append(dict(type="rect", xref="paper", yref="paper", x0=fx(2062), x1=fx(2147), y0=fy(2450), y1=fy(2363),
                   fillcolor=BAR_E2, line=dict(width=0)))
text(1924, 2407, "E_1", size=44, xa="left")
text(2178, 2407, "E_2", size=44, xa="left")

# ======================= Manhattan (l) =======================
for ph, s, e in zip(BAND_PHYLUM, BAND_START, BAND_END):
    traces.append(go.Scatter(x=[s, e], y=[0, 0], mode="lines", line=dict(color=PCOL[ph], width=18),
                             opacity=0.85, xaxis="x12", yaxis="y12", hoverinfo="skip", showlegend=False))
traces.append(go.Scatter(x=RING_X, y=[0] * len(RING_X), mode="markers",
                         marker=dict(symbol="circle-open", size=RING_SIZE, color=[PCOL[p] for p in RING_PHYLUM],
                                     line=dict(width=3)),
                         xaxis="x12", yaxis="y12", hoverinfo="skip", showlegend=False))
traces.append(go.Scatter(x=SIG_X, y=SIG_Y, mode="markers",
                         marker=dict(size=SIG_SIZE, color=[PCOL[p] for p in SIG_PHYLUM], opacity=0.92,
                                     line=dict(width=0)),
                         xaxis="x12", yaxis="y12", hoverinfo="skip", showlegend=False))
shapes.append(dict(type="line", xref="x12 domain", yref="y12", x0=0.003, x1=0.995, y0=FDR_CUTOFF, y1=FDR_CUTOFF,
                   line=dict(color="#FF0000", width=4, dash="dash")))
layout["xaxis12"] = dict(domain=dx(215, 2880), range=[-48.95, 1049.95], tickmode="array", tickvals=MAN_TICKS,
                         showticklabels=False, ticks="outside", ticklen=14, tickwidth=3,
                         tickcolor="#222222", showline=True, mirror=True, linecolor="#222222", linewidth=4,
                         showgrid=False, zeroline=False, anchor="y12", fixedrange=True, automargin=False)
layout["yaxis12"] = dict(domain=dy(2589, 3062), range=[-10.2, 209.8], tickmode="array",
                         tickvals=[0, 50, 100, 150, 200], ticktext=["0", "50", "100", "150", "200"],
                         ticks="outside", ticklen=10, tickwidth=3, tickcolor="#222222", showline=True, mirror=True,
                         linecolor="#222222", linewidth=4, showgrid=False, zeroline=False,
                         tickfont=dict(size=42, color=INK, family=FONT), anchor="x12", fixedrange=True,
                         automargin=False)
text(66, 2601, "l", size=52)
text(78, 2793, "-log10(FDR)", size=44, angle=-90)

# legend of phyla (4 columns x 8 rows, column-major)
LEG_COL_X = [400, 957, 1534, 2083]
LEG_ROW_Y0, LEG_PITCH, LEG_TXT_DX = 3144, 83.4, 68
lx = [LEG_COL_X[i // 8] for i in range(len(PHYLA))]
ly = [LEG_ROW_Y0 + (i % 8) * LEG_PITCH for i in range(len(PHYLA))]
traces.append(go.Scatter(x=lx, y=ly, mode="markers", marker=dict(size=23, color=[PCOL[p] for p in PHYLA]),
                         xaxis="x13", yaxis="y13", hoverinfo="skip", showlegend=False))
traces.append(go.Scatter(x=[v + LEG_TXT_DX for v in lx], y=ly, mode="text", text=PHYLA,
                         textposition="middle right", textfont=dict(size=43, color=INK, family=FONT),
                         xaxis="x13", yaxis="y13", hoverinfo="skip", showlegend=False, cliponaxis=False))
layout["xaxis13"] = dict(domain=[0, 1], range=[0, W], visible=False, anchor="y13", fixedrange=True,
                         automargin=False)
layout["yaxis13"] = dict(domain=dy(3090, 3785), range=[3785, 3090], visible=False, anchor="x13", fixedrange=True,
                         automargin=False)
text(286, 3405, "Taxonomy (bacterial genus)", size=43, angle=-90)

fig = go.Figure(data=traces)
fig.update_layout(width=W, height=H, margin=dict(l=0, r=0, t=0, b=0, pad=0, autoexpand=False),
                  paper_bgcolor="white", plot_bgcolor="white", showlegend=False,
                  font=dict(family=FONT, size=44, color=INK),
                  annotations=ann, shapes=shapes, barmode="overlay", **layout)
fig.write_html("out.html")
